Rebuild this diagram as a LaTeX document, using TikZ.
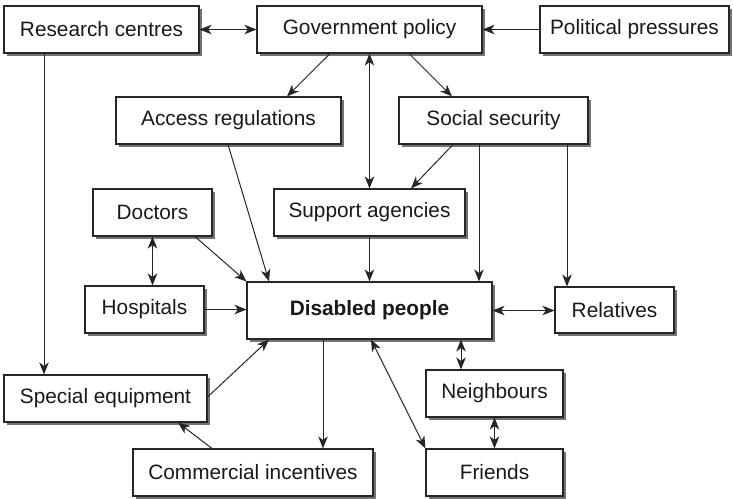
\documentclass[tikz,border=0pt]{standalone}
\usepackage{fontspec}
\setmainfont{Liberation Sans}
\usetikzlibrary{arrows.meta,shadows}
\begin{document}
\begin{tikzpicture}[x=1pt,y=-1pt,
  box/.style={draw=black!85, line width=1.1pt, fill=white, inner sep=0pt,
    font=\fontsize{20.8}{24}\selectfont, text=black!90,
    drop shadow={shadow xshift=3pt, shadow yshift=-3pt, fill=black!55, opacity=1}},
  arr/.style={line width=1pt, draw=black!85, -{Stealth[length=12pt,width=9.5pt,inset=3.5pt]}},
  darr/.style={line width=1pt, draw=black!85, {Stealth[length=12pt,width=9.5pt,inset=3.5pt]}-{Stealth[length=12pt,width=9.5pt,inset=3.5pt]}}]
\useasboundingbox (0,0) rectangle (733,498);
\node[box, minimum width=195pt, minimum height=47pt] (rc) at (101.5,29.5) {Research centres};
\node[box, minimum width=225pt, minimum height=47pt] (gp) at (369.5,29.5) {Government policy};
\node[box, minimum width=189pt, minimum height=47pt] (pp) at (634.5,29.5) {Political pressures};
\node[box, minimum width=225pt, minimum height=47pt] (ar) at (228.5,120.5) {Access regulations};
\node[box, minimum width=189pt, minimum height=47pt] (ss) at (493.5,120.5) {Social security};
\node[box, minimum width=119pt, minimum height=47pt] (doc) at (152.5,212.5) {Doctors};
\node[box, minimum width=191pt, minimum height=47pt] (sa) at (369.5,212.5) {Support agencies};
\node[box, minimum width=119pt, minimum height=47pt] (hos) at (144.5,309.5) {Hospitals};
\node[box, minimum width=245pt, minimum height=57pt] (dp) at (369.5,310.5) {\bfseries Disabled people};
\node[box, minimum width=119pt, minimum height=46pt] (rel) at (614.5,310) {Relatives};
\node[box, minimum width=137pt, minimum height=47pt] (nb) at (494.5,393.5) {Neighbours};
\node[box, minimum width=137pt, minimum height=47pt] (fr) at (494.5,472.5) {Friends};
\node[box, minimum width=203pt, minimum height=47pt] (se) at (105.5,398.5) {Special equipment};
\node[box, minimum width=240pt, minimum height=47pt] (ci) at (253,472.5) {Commercial incentives};

\draw[darr] (rc.east) -- (gp.west);
\draw[arr] (pp.west) -- (gp.east);
\draw[arr] ([xshift=-39.5pt]gp.south) -- ([xshift=58.5pt]ar.north);
\draw[arr] ([xshift=39.5pt]gp.south) -- ([xshift=-41.5pt]ss.north);
\draw[darr] (gp.south) -- (sa.north);
\draw[arr] ([xshift=-40.5pt]ss.south) -- ([xshift=41.5pt]sa.north);
\draw[arr] ([xshift=-14.5pt]ss.south) -- ([xshift=109.5pt]dp.north);
\draw[arr] ([xshift=73.5pt]ss.south) -- ([xshift=-47.5pt]rel.north);
\draw[arr] ([xshift=-0.5pt]ar.south) -- ([xshift=-100.5pt]dp.north);
\draw[arr] ([xshift=42.5pt]doc.south) -- (dp.north west);
\draw[darr] (doc.south) -- ([xshift=8pt]hos.north);
\draw[arr] (sa.south) -- (dp.north);
\draw[arr] ([xshift=-57.5pt]rc.south) -- ([xshift=-61.5pt]se.north);
\draw[arr] (hos.east) -- (hos.east -| dp.west);
\draw[arr] ([yshift=1.5pt]se.east) -- ([xshift=-100.5pt]dp.south);
\draw[arr] ([xshift=-41pt]ci.north) -- ([xshift=72.5pt]se.south);
\draw[arr] ([xshift=-46.5pt]dp.south) -- ([xshift=70pt]ci.north);
\draw[darr] (dp.east) -- (dp.east -| rel.west);
\draw[darr] ([xshift=91.5pt]dp.south) -- ([xshift=-33.5pt]nb.north);
\draw[darr] (nb.south) -- (fr.north);
\draw[darr] ([xshift=1.5pt]dp.south) -- (fr.north west);
\end{tikzpicture}
\end{document}
